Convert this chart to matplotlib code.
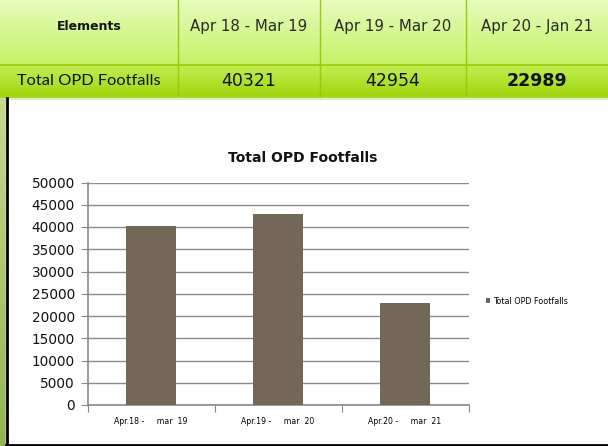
import numpy as np
import matplotlib.pyplot as plt

# data
periods = ['Apr 18 - Mar 19', 'Apr 19 - Mar 20', 'Apr 20 - Jan 21']
footfalls = [40321, 42954, 22989]
value_weights = ['normal', 'normal', 'bold']
bar_labels = ['Apr.18 -     mar  19', 'Apr.19 -     mar  20', 'Apr.20 -     mar  21']
row_name = 'Total OPD Footfalls'

W, H = 608, 446
fig = plt.figure(figsize=(W / 100, H / 100), dpi=100)

# background layer in pixel coords
bg = fig.add_axes([0, 0, 1, 1])
bg.set_xlim(0, W)
bg.set_ylim(H, 0)
bg.axis('off')


def gradient(x0, x1, y0, y1, c_top, c_bot):
    t = np.linspace(0, 1, 64)[:, None]
    top = np.array(plt.matplotlib.colors.to_rgb(c_top))
    bot = np.array(plt.matplotlib.colors.to_rgb(c_bot))
    img = (1 - t)[:, :, None] * top + t[:, :, None] * bot
    img = np.repeat(img, 2, axis=1)
    bg.imshow(img, extent=(x0, x1, y1, y0), aspect='auto', zorder=1,
              interpolation='bilinear')


# table
col_edges = [0, 178, 320, 466, W]
gradient(0, W, 0, 65, '#e6fcbc', '#c4f266')
gradient(0, W, 65, 97, '#c0ee52', '#a2d60c')
line_c = '#9cc80a'
for x in col_edges[1:-1]:
    bg.plot([x, x], [0, 97], color=line_c, lw=1, zorder=2)
bg.plot([0, W], [65, 65], color=line_c, lw=1.2, zorder=2)
bg.plot([0, W], [97, 97], color='#a8d020', lw=1.2, zorder=2)
# strip under table and on the left
bg.fill_between([0, W], 97, 100, color='#d8eeb0', zorder=1)
gradient(0, 6, 97, H, '#c4dc8c', '#94b450')
bg.fill_between([6, W], 100, 445, color='white', zorder=1)
bg.plot([6.5, 6.5], [98, 445], color='black', lw=2, zorder=3)
bg.plot([6, W], [445, 445], color='black', lw=2, zorder=3)

centers = [(col_edges[i] + col_edges[i + 1]) / 2 for i in range(4)]
centers[0] = 89
bg.text(centers[0], 27, 'Elements', ha='center', va='center',
        fontsize=9, fontweight='bold', color='#111111', zorder=4)
bg.text(centers[0], 81, row_name, ha='center', va='center',
        fontsize=11.8, family='Lato', color='#111111', zorder=4)
for i, (p, v) in enumerate(zip(periods, footfalls)):
    bg.text(centers[i + 1], 27, p, ha='center', va='center',
            fontsize=10.8, family='DejaVu Sans', color='#2a2a2a', zorder=4)
    bg.text(centers[i + 1], 81, str(v), ha='center', va='center',
            fontsize=12.5, family='DejaVu Sans', fontweight=value_weights[i],
            color='#111111', zorder=4)

# chart
ax = fig.add_axes([87.5 / W, (H - 405) / H, 381 / W, 222.5 / H])
ax.set_facecolor('none')
x = np.arange(len(footfalls))
ax.bar(x, footfalls, width=0.39, color='#736858', zorder=3,
       label='Total OPD Footfalls')
ax.set_xlim(-0.5, len(footfalls) - 0.5)
ax.set_ylim(0, 50000)
ax.set_yticks(np.arange(0, 50001, 5000))
ax.tick_params(axis='y', labelsize=9.8, length=5, color='#888888',
               labelcolor='#111111', pad=4)
ax.set_xticks(np.arange(-0.5, len(footfalls), 1))
ax.set_xticklabels([])
ax.set_xticks(x, minor=True)
ax.set_xticklabels(bar_labels, minor=True, fontsize=5.6)
ax.tick_params(axis='x', which='major', length=5, color='#888888')
ax.tick_params(axis='x', which='minor', length=0, pad=9)
ax.grid(axis='y', color='#8c8c8c', lw=1, zorder=0)
for s in ['top', 'right']:
    ax.spines[s].set_visible(False)
for s in ['left', 'bottom']:
    ax.spines[s].set_color('#888888')
    ax.spines[s].set_linewidth(1.2)

fig.text(303 / W, 1 - 158 / H, 'Total OPD Footfalls', ha='center',
         va='center', fontsize=10, fontweight='bold', color='#111111')
ax.legend(loc='center left', bbox_to_anchor=(479 / W, 1 - 301 / H),
          bbox_transform=fig.transFigure, frameon=False, fontsize=5.8,
          handlelength=0.5, handleheight=0.5, handletextpad=0.4)

fig.savefig('out.png', dpi=100)
